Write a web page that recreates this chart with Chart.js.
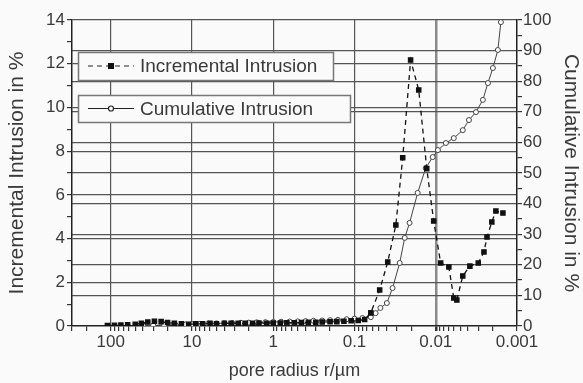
<!DOCTYPE html>
<html>
<head>
<meta charset="utf-8">
<script src="https://cdn.jsdelivr.net/npm/chart.js@4.4.1/dist/chart.umd.min.js"></script>
<style>
  html, body { margin: 0; padding: 0; background: #fafafa; }
  #wrap { width: 583px; height: 383px; }
</style>
</head>
<body>
<div id="wrap"><canvas id="myChart" width="583" height="383"></canvas></div>
<script>
// pore radius in µm and intrusion values
const incRadius = [110, 90, 75, 62, 50, 42, 35, 29, 24, 20, 16.5, 13.5, 11, 9, 7.4, 6, 5, 4, 3.3, 2.7,
    2.2, 1.8, 1.5, 1.2, 1, 0.82, 0.68, 0.55, 0.45, 0.37, 0.3, 0.25, 0.2, 0.165, 0.135, 0.11, 0.09, 0.075, 0.063,
    0.049, 0.039, 0.031, 0.0255, 0.0204, 0.0162, 0.0129, 0.0106, 0.0087, 0.0069, 0.006, 0.0055,
    0.00465, 0.0038, 0.003, 0.00255, 0.00234, 0.00204, 0.00182, 0.00149];
const incValues = [0.02, 0.03, 0.04, 0.06, 0.08, 0.12, 0.18, 0.22, 0.2, 0.16, 0.12, 0.1, 0.08, 0.1, 0.1, 0.12, 0.1, 0.12, 0.12, 0.12,
    0.13, 0.12, 0.14, 0.13, 0.14, 0.14, 0.15, 0.15, 0.16, 0.17, 0.17, 0.18, 0.19, 0.2, 0.22, 0.24, 0.25, 0.3, 0.6,
    1.65, 2.93, 4.62, 7.7, 12.17, 10.8, 7.2, 4.8, 2.88, 2.7, 1.28, 1.19,
    2.29, 2.74, 2.88, 3.39, 4.07, 4.76, 5.26, 5.17];

const cumRadius = [40, 30, 22, 16, 12, 10, 8, 6.3, 5, 4, 3.2, 2.5, 2, 1.6, 1.25, 1, 0.8, 0.63, 0.5, 0.4,
    0.32, 0.25, 0.2, 0.16, 0.125, 0.1, 0.08, 0.063, 0.055, 0.048, 0.040, 0.034, 0.0278, 0.0241, 0.021,
    0.0167, 0.0133, 0.0109, 0.0094, 0.0075, 0.006, 0.00465, 0.0039, 0.0032, 0.00263, 0.00228, 0.00198, 0.00172, 0.00158];
const cumValues = [0.1, 0.2, 0.3, 0.4, 0.5, 0.6, 0.7, 0.8, 0.85, 0.9, 1.0, 1.05, 1.1, 1.2, 1.25, 1.3, 1.4, 1.45, 1.5, 1.6,
    1.7, 1.8, 1.9, 2.0, 2.2, 2.4, 2.6, 2.9, 4.2, 5.9, 7.5, 12.4, 20.6, 28.8, 33.7,
    43.5, 51.6, 55.2, 57.5, 59.8, 61.4, 64, 67.3, 69.9, 73.9, 79.4, 84.3, 90.2, 99.3];

// axis labels
const xTickLabels = ['100', '10', '1', '0.1', '0.01', '0.001'];
const yTickLabels = [0, 2, 4, 6, 8, 10, 12, 14];
const y1TickLabels = [0, 10, 20, 30, 40, 50, 60, 70, 80, 90, 100];

const seriesNames = ['Incremental Intrusion', 'Cumulative Intrusion'];

const FONT = 'Liberation Sans, Arial, sans-serif';
const TEXT = '#3a3a3a';
const GRID = '#555';
const CLEAR = 'rgba(0,0,0,0)';

// two boxed legend entries in the upper left
const boxLegend = {
    id: 'boxLegend',
    afterDraw(chart) {
        const c = chart.ctx;
        const boxes = [
            { x: 78, y: 52, w: 255, h: 28, dash: [5, 4], point: 'rect' },
            { x: 78, y: 95, w: 272, h: 27, dash: [], point: 'circle' }
        ];
        c.save();
        boxes.forEach((b, i) => {
            c.fillStyle = '#fafafa';
            c.fillRect(b.x, b.y, b.w, b.h);
            c.strokeStyle = '#777';
            c.lineWidth = 1.5;
            c.setLineDash([]);
            c.strokeRect(b.x + 0.5, b.y + 0.5, b.w, b.h);
            const cy = b.y + b.h / 2;
            c.strokeStyle = '#222';
            c.lineWidth = 1.2;
            c.setLineDash(b.dash);
            c.beginPath();
            c.moveTo(88, cy);
            c.lineTo(134, cy);
            c.stroke();
            c.setLineDash([]);
            if (b.point === 'rect') {
                c.fillStyle = '#111';
                c.fillRect(108, cy - 3, 6, 6);
            } else {
                c.fillStyle = '#fff';
                c.beginPath();
                c.arc(111, cy, 2.5, 0, Math.PI * 2);
                c.fill();
                c.stroke();
            }
            c.fillStyle = TEXT;
            c.font = '19px ' + FONT;
            c.textBaseline = 'middle';
            c.fillText(seriesNames[i], 140, cy + 1);
        });
        c.restore();
    }
};

const ctx = document.getElementById('myChart').getContext('2d');

new Chart(ctx, {
    type: 'line',
    data: {
        datasets: [{
            label: seriesNames[0],
            data: incRadius.map((r, i) => ({ x: r, y: incValues[i] })),
            yAxisID: 'y',
            borderColor: '#111',
            borderWidth: 1.3,
            borderDash: [5, 4],
            pointStyle: 'rect',
            pointRadius: 3,
            pointBackgroundColor: '#111',
            pointBorderColor: '#111',
            tension: 0
        }, {
            label: seriesNames[1],
            data: cumRadius.map((r, i) => ({ x: r, y: cumValues[i] })),
            yAxisID: 'y1',
            borderColor: '#444',
            borderWidth: 1,
            pointStyle: 'circle',
            pointRadius: 2.5,
            pointBackgroundColor: '#fff',
            pointBorderColor: '#444',
            pointBorderWidth: 1,
            tension: 0
        }]
    },
    options: {
        responsive: false,
        animation: false,
        layout: { padding: { top: 20, left: 0, right: 0, bottom: 0 } },
        plugins: {
            legend: { display: false },
            tooltip: { enabled: false }
        },
        scales: {
            x: {
                type: 'logarithmic',
                reverse: true,
                min: 0.001,
                max: 300,
                afterBuildTicks(scale) {
                    const ticks = [];
                    for (let n = -3; n <= 2; n++) {
                        for (let k = 1; k <= 9; k++) {
                            const v = Number((k * Math.pow(10, n)).toPrecision(3));
                            if (v >= 0.001 && v <= 300) ticks.push({ value: v });
                        }
                    }
                    scale.ticks = ticks;
                },
                afterFit(scale) { scale.height = 57; },
                ticks: {
                    autoSkip: false,
                    maxRotation: 0,
                    padding: 1,
                    color: TEXT,
                    font: { family: FONT, size: 17 },
                    callback: v => {
                        const s = String(Number(v.toPrecision(3)));
                        return xTickLabels.includes(s) ? s : '';
                    }
                },
                grid: {
                    color: c => {
                        if (!c.tick) return CLEAR;
                        const s = String(c.tick.value);
                        if (s === '0.01') return '#8a8a8a';
                        return xTickLabels.includes(s) && s !== '0.001' ? GRID : CLEAR;
                    },
                    lineWidth: c => (c.tick && String(c.tick.value) === '0.01') ? 2.5 : 1.2,
                    tickColor: '#333',
                    tickLength: 5
                },
                border: { display: true, color: '#222', width: 1.5 },
                title: {
                    display: true,
                    text: 'pore radius r/µm',
                    color: TEXT,
                    font: { family: FONT, size: 18 },
                    padding: { top: 0, bottom: 1 }
                }
            },
            y: {
                position: 'left',
                min: 0,
                max: 14,
                afterFit(scale) { scale.width = 72; },
                ticks: {
                    stepSize: 1,
                    autoSkip: false,
                    padding: 2,
                    color: TEXT,
                    font: { family: FONT, size: 17 },
                    callback: v => yTickLabels.includes(v) ? v : ''
                },
                grid: {
                    color: c => (c.tick && c.tick.value % 2 === 0 && c.tick.value > 0) ? GRID : CLEAR,
                    lineWidth: 1.2,
                    tickColor: '#333',
                    tickLength: 5
                },
                border: { display: true, color: '#222', width: 1.5 },
                title: {
                    display: true,
                    text: 'Incremental Intrusion in %',
                    color: TEXT,
                    font: { family: FONT, size: 21 },
                    padding: { top: 5, bottom: 0 }
                }
            },
            y1: {
                position: 'right',
                min: 0,
                max: 100,
                afterFit(scale) { scale.width = 66; },
                ticks: {
                    stepSize: 5,
                    autoSkip: false,
                    padding: 1,
                    color: TEXT,
                    font: { family: FONT, size: 17 },
                    callback: v => y1TickLabels.includes(v) ? v : ''
                },
                grid: {
                    drawOnChartArea: true,
                    color: c => (c.tick && c.tick.value % 10 === 0 && c.tick.value > 0 && c.tick.value < 100) ? GRID : CLEAR,
                    lineWidth: 1.2,
                    tickColor: '#333',
                    tickLength: 5
                },
                border: { display: true, color: '#222', width: 1.5 },
                title: {
                    display: true,
                    text: 'Cumulative Intrusion in %',
                    color: TEXT,
                    font: { family: FONT, size: 21 },
                    padding: { top: 0, bottom: 0 }
                }
            }
        }
    },
    plugins: [boxLegend]
});
</script>
</body>
</html>
